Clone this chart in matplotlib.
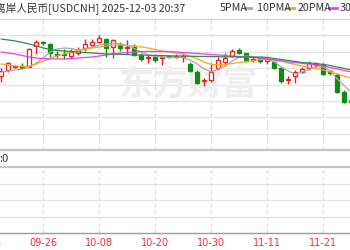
import matplotlib
matplotlib.use("Agg")
import matplotlib.pyplot as plt
from matplotlib.lines import Line2D
import numpy as np

plt.rcParams['font.family'] = ['Noto Sans CJK SC', 'DejaVu Sans']

# ---- data (USDCNH daily candles, offshore yuan) ----
opens = [7.1215, 7.1245, 7.1258, 7.1265, 7.1260, 7.1365, 7.1383, 7.1375, 7.1323, 7.1323,
         7.1315, 7.1330, 7.1355, 7.1370, 7.1385, 7.1400, 7.1360, 7.1370, 7.1355, 7.1360,
         7.1320, 7.1305, 7.1310, 7.1305, 7.1315, 7.1310, 7.1308, 7.1275, 7.1235, 7.1188,
         7.1195, 7.1255, 7.1285, 7.1315, 7.1345, 7.1328, 7.1295, 7.1303, 7.1290, 7.1285,
         7.1253, 7.1195, 7.1215, 7.1235, 7.1255, 7.1270, 7.1273, 7.1238, 7.1220, 7.1135,
         7.1085]
highs = [7.1255, 7.1285, 7.1270, 7.1278, 7.1355, 7.1395, 7.1390, 7.1380, 7.1340, 7.1350,
         7.1350, 7.1360, 7.1400, 7.1400, 7.1418, 7.1405, 7.1400, 7.1385, 7.1395, 7.1375,
         7.1330, 7.1320, 7.1320, 7.1315, 7.1320, 7.1325, 7.1330, 7.1283, 7.1245, 7.1205,
         7.1280, 7.1310, 7.1330, 7.1350, 7.1355, 7.1330, 7.1310, 7.1310, 7.1310, 7.1290,
         7.1260, 7.1213, 7.1245, 7.1260, 7.1288, 7.1285, 7.1280, 7.1245, 7.1230, 7.1145,
         7.1105]
lows = [7.1185, 7.1235, 7.1253, 7.1253, 7.1258, 7.1325, 7.1370, 7.1310, 7.1305, 7.1300,
        7.1305, 7.1320, 7.1340, 7.1360, 7.1378, 7.1310, 7.1305, 7.1340, 7.1325, 7.1315,
        7.1290, 7.1278, 7.1285, 7.1270, 7.1303, 7.1305, 7.1285, 7.1235, 7.1175, 7.1165,
        7.1185, 7.1245, 7.1265, 7.1310, 7.1325, 7.1285, 7.1285, 7.1280, 7.1275, 7.1250,
        7.1180, 7.1175, 7.1180, 7.1230, 7.1245, 7.1260, 7.1220, 7.1220, 7.1130, 7.1078,
        7.1075]
closes = [7.1240, 7.1280, 7.1263, 7.1255, 7.1350, 7.1385, 7.1378, 7.1330, 7.1318, 7.1318,
          7.1335, 7.1345, 7.1375, 7.1385, 7.1405, 7.1355, 7.1395, 7.1355, 7.1360, 7.1320,
          7.1300, 7.1310, 7.1295, 7.1310, 7.1308, 7.1315, 7.1313, 7.1240, 7.1180, 7.1193,
          7.1235, 7.1295, 7.1305, 7.1340, 7.1330, 7.1290, 7.1300, 7.1288, 7.1300, 7.1255,
          7.1190, 7.1200, 7.1235, 7.1250, 7.1280, 7.1275, 7.1225, 7.1230, 7.1135, 7.1085,
          7.1095]

ma5 = [7.1235, 7.1240, 7.1245, 7.1250, 7.1260, 7.1280, 7.1305, 7.1335, 7.1350, 7.1355,
       7.13525, 7.1345, 7.1350, 7.1360, 7.1370, 7.1375, 7.1380, 7.1375, 7.13675, 7.13525,
       7.1335, 7.1320, 7.13125, 7.1310, 7.13075, 7.1310, 7.13075, 7.1295, 7.1275, 7.1250,
       7.1235, 7.1250, 7.1265, 7.1290, 7.1310, 7.1315, 7.1310, 7.1305, 7.1300, 7.1285,
       7.1260, 7.1240, 7.1225, 7.1235, 7.1250, 7.1260, 7.1260, 7.1240, 7.1200, 7.1165,
       7.1135]
ma10 = [7.1275, 7.1270, 7.1265, 7.12625, 7.1265, 7.1275, 7.1290, 7.1305, 7.1315, 7.1325,
        7.1335, 7.13425, 7.1350, 7.1355, 7.1360, 7.1365, 7.1370, 7.1370, 7.13675, 7.1365,
        7.1360, 7.1355, 7.13475, 7.1340, 7.1335, 7.1330, 7.1325, 7.13125, 7.1300, 7.1285,
        7.12725, 7.1270, 7.12725, 7.12775, 7.12825, 7.12875, 7.12925, 7.12975, 7.1300, 7.12975,
        7.1290, 7.1280, 7.12725, 7.1265, 7.12575, 7.12525, 7.1245, 7.1235, 7.1225, 7.12125,
        7.1205]
ma20 = [7.1335, 7.1330, 7.1325, 7.13175, 7.1310, 7.1305, 7.13025, 7.1300, 7.1300, 7.1300,
        7.13025, 7.1305, 7.13075, 7.1310, 7.1315, 7.1320, 7.1325, 7.1330, 7.13325, 7.1335,
        7.13375, 7.13375, 7.13375, 7.13375, 7.13375, 7.1335, 7.13325, 7.1330, 7.13275, 7.1325,
        7.13225, 7.1320, 7.13175, 7.1315, 7.13125, 7.1310, 7.13075, 7.1305, 7.1300, 7.1295,
        7.1290, 7.1285, 7.12825, 7.12775, 7.1275, 7.1270, 7.1265, 7.12575, 7.1250, 7.12425,
        7.1235]
ma30 = [7.1400, 7.1395, 7.1390, 7.13825, 7.1375, 7.1365, 7.1355, 7.13475, 7.13425, 7.1340,
        7.13375, 7.1335, 7.13325, 7.1330, 7.13275, 7.1325, 7.1325, 7.13225, 7.13225, 7.1320,
        7.1320, 7.1319, 7.1318, 7.1317, 7.1316, 7.1315, 7.1315, 7.1314, 7.1313, 7.13125,
        7.1312, 7.13115, 7.1311, 7.13105, 7.1310, 7.1310, 7.1310, 7.1310, 7.13075, 7.13025,
        7.12975, 7.12925, 7.12875, 7.12825, 7.1280, 7.12775, 7.12725, 7.12675, 7.1260, 7.12525,
        7.1245]

date_labels = ['09-15', '09-26', '10-08', '10-20', '10-30', '11-11', '11-21']
date_index = [-2, 6, 14, 22, 30, 38, 46]

title = '离岸人民币[USDCNH] 2025-12-03 20:37'
legend_names = ['5PMA', '10PMA', '20PMA', '30PMA']

# ---- styling ----
W, H = 350, 250
fig = plt.figure(figsize=(3.5, 2.5), dpi=100)
fig.patch.set_facecolor('white')

UP = '#f21b1b'
DOWN = '#138a13'
C5, C10, C20, C30 = '#a8a8a8', '#f5a623', '#f03cf0', '#2f8a4f'
GRID = '#e2e2e2'

def fx(px):
    return px / W

def fy(py):
    return 1 - py / H

ax1 = fig.add_axes([0, fy(150), 1, (150 - 19) / H])
ax2 = fig.add_axes([0, fy(233), 1, (233 - 167) / H])

n = len(closes)
idx = np.arange(n)
xlim = (-1.3 / 7, (350 - 1.3) / 7)
ylo, yhi = 7.0845, 7.1500

for ax in (ax1, ax2):
    ax.set_xlim(*xlim)
    ax.set_xticks([])
    ax.set_yticks([])
    for s in ('left', 'right'):
        ax.spines[s].set_visible(False)
    for d in date_index[1:]:
        ax.axvline(d, color='#d8d8d8', lw=0.8, ls=(0, (3, 3)), zorder=0)

ax1.set_ylim(ylo, yhi)
for v in np.linspace(ylo, yhi, 9)[1:-1]:
    ax1.axhline(v, color=GRID, lw=0.9, zorder=0)
ax1.spines['top'].set_color('#d6d6d6')
ax1.spines['top'].set_linewidth(1.0)
ax1.spines['bottom'].set_color('#c4c4c4')
ax1.spines['bottom'].set_linewidth(1.6)

ax2.set_ylim(0, 4)
for v in (1, 2, 3):
    ax2.axhline(v, color=GRID, lw=0.9, zorder=0)
ax2.spines['top'].set_color('#c4c4c4')
ax2.spines['top'].set_linewidth(1.6)
ax2.spines['bottom'].set_color('#9a9a9a')
ax2.spines['bottom'].set_linewidth(1.0)

# watermark
ax1.text(fx(188), 0.5, '东方财富', transform=ax1.transAxes, ha='center', va='center',
         fontsize=25, fontweight='bold', color='#eeeeee', zorder=0.5,
         family=['Noto Sans CJK SC'])

# candles
o = np.array(opens); c = np.array(closes); h = np.array(highs); l = np.array(lows)
up = c >= o
cols = np.where(up, UP, DOWN)
ax1.vlines(idx, l, h, colors=cols, lw=1.0, zorder=2)
body_lo = np.minimum(o, c)
body_h = np.maximum(np.abs(c - o), 0.00012)
ax1.bar(idx[up], body_h[up], bottom=body_lo[up], width=0.62,
        facecolor='white', edgecolor=UP, linewidth=0.9, zorder=3)
ax1.bar(idx[~up], body_h[~up], bottom=body_lo[~up], width=0.62,
        facecolor=DOWN, edgecolor=DOWN, linewidth=0.9, zorder=3)

# moving averages
for series, col in ((ma5, C5), (ma10, C10), (ma20, C20), (ma30, C30)):
    ax1.plot(idx, series, color=col, lw=0.9, zorder=4)

# date labels
for d, lab in zip(date_index, date_labels):
    ax2.text(d, -0.6, lab, ha='center', va='center', fontsize=7, color='#f22d2d',
             family=['DejaVu Sans'], clip_on=False)

# title and legend
fig.text(fx(-5), fy(8), title, ha='left', va='center', fontsize=7.7, color='#333333')
leg_x = [220, 257, 298, 340]
dash_x = [(245, 251), (287, 294), (329, 337), (380, 388)]
for name, lx, (d0, d1), col in zip(legend_names, leg_x, dash_x, (C5, C10, C20, C30)):
    fig.text(fx(lx), fy(8), name, ha='left', va='center', fontsize=7.7, color='#333333')
    fig.add_artist(Line2D([fx(d0), fx(d1)], [fy(8), fy(8)], color=col, lw=2))

fig.text(fx(-1), fy(159), ':0', ha='left', va='center', fontsize=8, color='#333333')

fig.savefig('out.png', dpi=100, facecolor='white')
